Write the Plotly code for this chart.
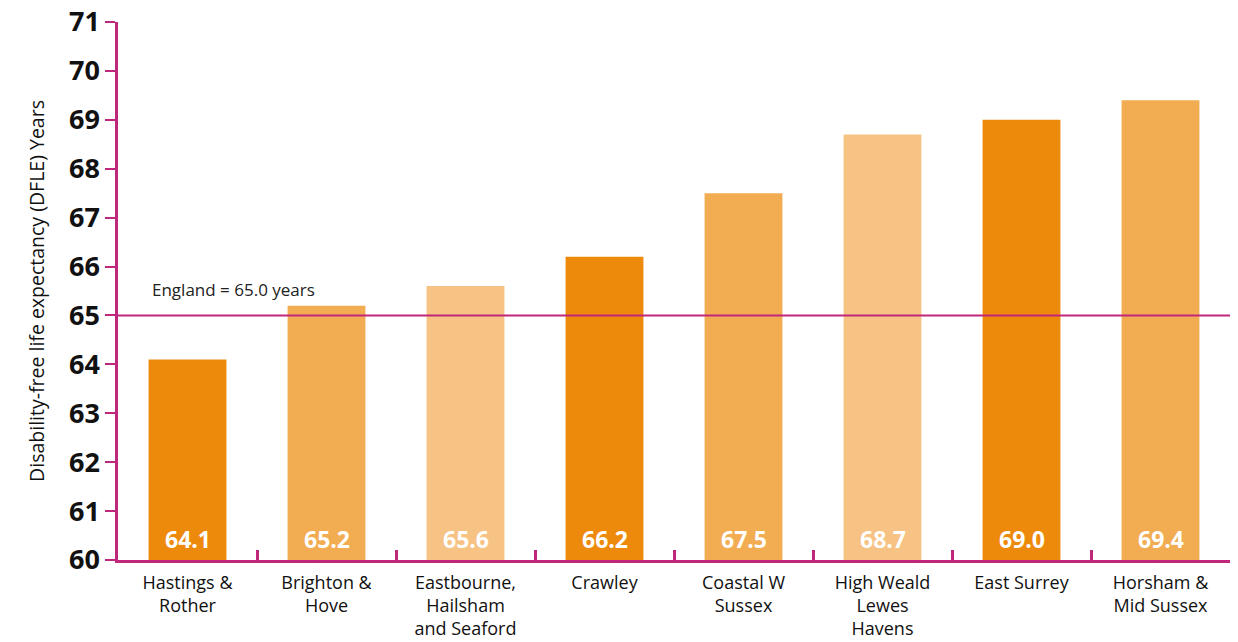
import plotly.graph_objects as go

# Disability-free life expectancy by area
areas = [
    "Hastings &<br>Rother",
    "Brighton &<br>Hove",
    "Eastbourne,<br>Hailsham<br>and Seaford",
    "Crawley",
    "Coastal W<br>Sussex",
    "High Weald<br>Lewes<br>Havens",
    "East Surrey",
    "Horsham &<br>Mid Sussex",
]
dfle_years = [64.1, 65.2, 65.6, 66.2, 67.5, 68.7, 69.0, 69.4]
england_dfle = 65.0
y_ticks = list(range(60, 72))

DARK = "#EE8A0B"
MID = "#F2AC52"
LIGHT = "#F6C384"
MAGENTA = "#C0267A"
palette = [DARK, MID, LIGHT]
bar_colors = [palette[i % 3] for i in range(len(areas))]

FONT = "Open Sans"

fig = go.Figure()
fig.add_trace(go.Bar(
    x=areas,
    y=dfle_years,
    marker=dict(color=bar_colors, line=dict(width=0)),
    hovertemplate="%{x}: %{y:.1f}<extra></extra>",
))

# value labels at the foot of each bar
for a, v in zip(areas, dfle_years):
    fig.add_annotation(
        x=a, y=60, xref="x", yref="y",
        text=f"<b>{v:.1f}</b>", showarrow=False,
        yanchor="bottom", yshift=3,
        font=dict(family=FONT, size=23, color="white"),
    )

# England reference line
fig.add_shape(
    type="line", xref="paper", yref="y",
    x0=0, x1=1, y0=england_dfle, y1=england_dfle,
    line=dict(color=MAGENTA, width=2),
)
fig.add_annotation(
    xref="paper", yref="y", x=0.029, y=england_dfle,
    text=f"England = {england_dfle:.1f} years", showarrow=False,
    xanchor="left", yanchor="bottom", yshift=12,
    font=dict(family=FONT, size=17, color="#222222"),
)

fig.update_layout(
    width=1238, height=642,
    margin=dict(l=118, r=8, t=22, b=82, autoexpand=False),
    paper_bgcolor="white", plot_bgcolor="white",
    bargap=0.44,
    showlegend=False,
    font=dict(family=FONT, color="#111111"),
)
fig.update_yaxes(
    range=[60, 71],
    tickvals=y_ticks,
    ticktext=[f"<b>{t}</b>" for t in y_ticks],
    tickfont=dict(family=FONT, size=27, color="#111111"),
    ticks="outside", ticklen=10, tickwidth=2, tickcolor=MAGENTA,
    showline=True, linecolor=MAGENTA, linewidth=2.5,
    showgrid=False, zeroline=False,
    automargin=False,
    title=dict(text="Disability-free life expectancy (DFLE) Years",
               font=dict(family=FONT, size=19.5, color="#111111"), standoff=20),
)
fig.update_xaxes(
    tickson="boundaries",
    ticks="inside", ticklen=10, tickwidth=2.5, tickcolor=MAGENTA,
    showline=True, linecolor=MAGENTA, linewidth=3,
    showgrid=False,
    automargin=False,
    ticklabelstandoff=4,
    tickfont=dict(family=FONT, size=18, color="#111111"),
)

fig.write_html("out.html")
